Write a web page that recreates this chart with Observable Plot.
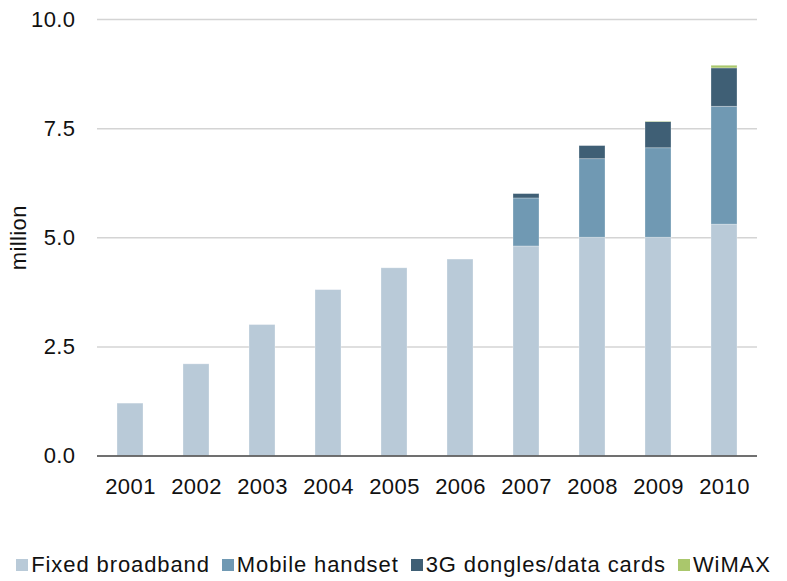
<!DOCTYPE html>
<html>
<head>
<meta charset="utf-8">
<script src="https://cdn.jsdelivr.net/npm/d3@7"></script>
<script src="https://cdn.jsdelivr.net/npm/@observablehq/plot@0.6"></script>
<style>
  body { margin: 0; background: #fff; font-family: "Liberation Sans", Arial, sans-serif; }
  #chart svg { display: block; }
  #chart svg text { letter-spacing: 0.4px; }
  .legend { display: flex; justify-content: center; align-items: center; font-size: 22px;
            letter-spacing: 0.9px; color: #111; height: 51px; padding-top: 19px; box-sizing: border-box; }
  .legend span.item { display: inline-flex; align-items: center; margin: 0 6px; }
  .legend span.sw { width: 12px; height: 12px; margin-right: 3px; display: inline-block; }
</style>
</head>
<body>
<div id="chart"></div>
<script>
// Connections by access type, millions
const years = ["2001", "2002", "2003", "2004", "2005", "2006", "2007", "2008", "2009", "2010"];
const fixedBroadband = [1.2, 2.1, 3.0, 3.8, 4.3, 4.5, 4.8, 5.0, 5.0, 5.3];
const mobileHandset  = [0, 0, 0, 0, 0, 0, 1.1, 1.8, 2.05, 2.7];
const dongles        = [0, 0, 0, 0, 0, 0, 0.1, 0.3, 0.6, 0.88];
const wimax          = [0, 0, 0, 0, 0, 0, 0, 0, 0.01, 0.06];
const seriesNames = ["Fixed broadband", "Mobile handset", "3G dongles/data cards", "WiMAX"];
const seriesColors = ["#b9cad8", "#7099b3", "#3f5f75", "#aac76c"];
const yTicks = [0, 2.5, 5, 7.5, 10];

const seriesValues = [fixedBroadband, mobileHandset, dongles, wimax];
const rows = [];
seriesNames.forEach((name, s) => {
  years.forEach((year, i) => rows.push({year, series: name, value: seriesValues[s][i]}));
});

const W = 787, H = 530;
const plot = Plot.plot({
  width: W,
  height: H,
  marginLeft: 97,
  marginRight: 30,
  marginTop: 19,
  marginBottom: H - 455.5,
  style: {fontFamily: "'Liberation Sans', Arial, sans-serif", fontSize: "22px", color: "#111", background: "#fff"},
  x: {type: "band", domain: years, paddingInner: 0.6, paddingOuter: 0.3, label: null},
  y: {domain: [0, 10], label: null},
  color: {domain: seriesNames, range: seriesColors},
  marks: [
    Plot.ruleY(yTicks.filter(d => d > 0), {stroke: "#d4d4d4", strokeWidth: 1.5}),
    Plot.barY(rows, {
      x: "year", y: "value", fill: "series",
      order: seriesNames,
      stroke: "#ffffff", strokeOpacity: 0.35, strokeWidth: 0.8
    }),
    Plot.ruleY([0], {stroke: "#404040", strokeWidth: 1.6}),
    Plot.axisY(yTicks, {tickSize: 0, tickPadding: 22, tickFormat: d3.format(".1f"), label: null, fontSize: 22}),
    Plot.axisX({tickSize: 0, tickPadding: 22, label: null, fontSize: 22}),
    Plot.text(["million"], {frameAnchor: "left", textAnchor: "middle", dx: -79, rotate: -90, fontSize: 22, fill: "#111"})
  ]
});
document.getElementById("chart").append(plot);

// Legend below the plot
const legend = document.createElement("div");
legend.className = "legend";
seriesNames.forEach((name, i) => {
  const item = document.createElement("span");
  item.className = "item";
  const sw = document.createElement("span");
  sw.className = "sw";
  sw.style.background = seriesColors[i];
  item.append(sw, document.createTextNode(name));
  legend.append(item);
});
document.getElementById("chart").append(legend);
</script>
</body>
</html>
